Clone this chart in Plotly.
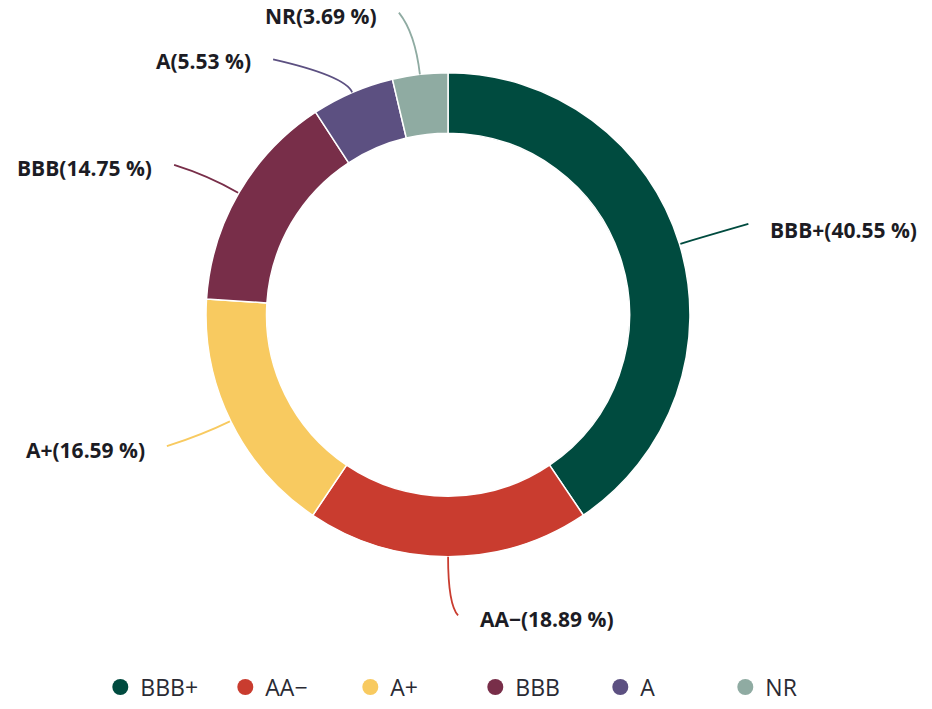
import math
import plotly.graph_objects as go

# ---- data ----
categories = ["BBB+", "AA−", "A+", "BBB", "A", "NR"]
shares = [40.55, 18.89, 16.59, 14.75, 5.53, 3.69]
colors = ["#004B3F", "#C93C2F", "#F8CA60", "#782E49", "#5C5081", "#8FABA2"]

# label leader-line layout: (dx, dy, control distance, text dy) in px from slice edge
label_layout = [(68, -20, 22, 6), (10, 59, 48, 4), (-63, 25, 30, 4), (-64, -28, 34, 3), (-79, -33, 18, 2), (-21, -62, 42, 3)]

W, H = 932, 709
CX, CY, R = 448, 316, 243

fig = go.Figure()
fig.add_trace(go.Pie(
    labels=categories, values=shares, sort=False, direction="clockwise", rotation=0,
    hole=0.75, textinfo="none", showlegend=False,
    marker=dict(colors=colors, line=dict(color="white", width=1.5)),
    domain=dict(x=[(CX - R) / W, (CX + R) / W], y=[(H - CY - R) / H, (H - CY + R) / H]),
))

for cat, col in zip(categories, colors):
    fig.add_trace(go.Scatter(x=[None], y=[None], mode="markers", name=cat,
                             marker=dict(symbol="circle", size=21, color=col)))

def px2paper(x, y):
    return x / W, (H - y) / H

total = sum(shares)
cum = 0.0
annotations = []
shapes = []
for cat, val, col, (dx, dy, k, tdy) in zip(categories, shares, colors, label_layout):
    mid = (cum + val / 2) / total * 2 * math.pi
    cum += val
    sx, sy = math.sin(mid), -math.cos(mid)
    x0, y0 = CX + R * sx, CY + R * sy
    cx_, cy_ = x0 + k * sx, y0 + k * sy
    x1, y1 = x0 + dx, y0 + dy
    p0 = px2paper(x0, y0); pc = px2paper(cx_, cy_); p1 = px2paper(x1, y1)
    shapes.append(dict(type="path", xref="paper", yref="paper",
                       path=f"M {p0[0]},{p0[1]} Q {pc[0]},{pc[1]} {p1[0]},{p1[1]}",
                       line=dict(color=col, width=1.8)))
    right = dx > 0
    gap = 20
    tx = x1 + gap if right else x1 - gap
    ax, ay = px2paper(tx, y1 + tdy)
    annotations.append(dict(x=ax, y=ay, xref="paper", yref="paper", showarrow=False,
                            text=f"{cat}({val:.2f} %)", xanchor="left" if right else "right",
                            yanchor="middle",
                            font=dict(family="Open Sans", size=21, color="#1c1c24", weight="bold")))

fig.update_layout(
    width=W, height=H, margin=dict(l=0, r=0, t=0, b=0),
    paper_bgcolor="white", plot_bgcolor="white",
    xaxis=dict(visible=False), yaxis=dict(visible=False),
    shapes=shapes, annotations=annotations,
    legend=dict(orientation="h", x=0.51, xanchor="center", y=(H - 690) / H, yanchor="middle",
                font=dict(family="Open Sans", size=23, color="#2a2a33"),
                entrywidth=80, entrywidthmode="pixels"),
)

fig.write_html("out.html", config={"displayModeBar": False},
               post_script="document.body.style.margin='0px';")
